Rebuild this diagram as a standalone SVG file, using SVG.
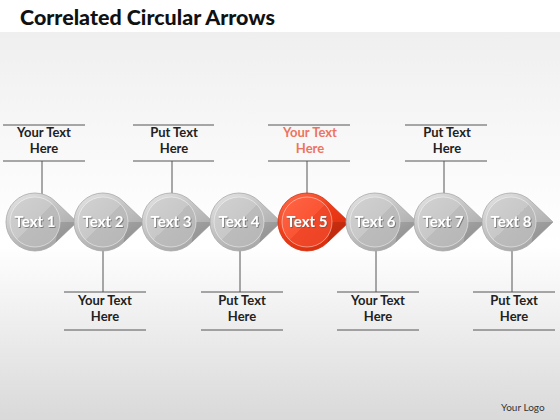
<svg xmlns="http://www.w3.org/2000/svg" width="560" height="420" viewBox="0 0 560 420">
<defs>
<linearGradient id="bg" x1="0" y1="0" x2="0" y2="1">
<stop offset="0" stop-color="#efefef"/>
<stop offset="0.35" stop-color="#fafafa"/>
<stop offset="0.55" stop-color="#ffffff"/>
<stop offset="1" stop-color="#d9d9d9"/>
</linearGradient>
<linearGradient id="gOut" x1="0" y1="0" x2="0.7" y2="1">
<stop offset="0" stop-color="#e8e8e8"/>
<stop offset="0.5" stop-color="#c2c2c2"/>
<stop offset="1" stop-color="#a4a4a4"/>
</linearGradient>
<linearGradient id="gIn" x1="0" y1="0" x2="1" y2="1">
<stop offset="0" stop-color="#d2d2d2"/>
<stop offset="0.5" stop-color="#c8c8c8"/>
<stop offset="0.5" stop-color="#bcbcbc"/>
<stop offset="1" stop-color="#b6b6b6"/>
</linearGradient>
<linearGradient id="rOut" x1="0" y1="0" x2="0.7" y2="1">
<stop offset="0" stop-color="#ff7252"/>
<stop offset="0.5" stop-color="#f03c18"/>
<stop offset="1" stop-color="#d42c0c"/>
</linearGradient>
<linearGradient id="rIn" x1="0" y1="0" x2="1" y2="1">
<stop offset="0" stop-color="#ff6546"/>
<stop offset="0.5" stop-color="#fa5534"/>
<stop offset="0.5" stop-color="#f04828"/>
<stop offset="1" stop-color="#ea4222"/>
</linearGradient>
<filter id="ts" x="-20%" y="-40%" width="140%" height="180%">
<feDropShadow dx="0.8" dy="0.8" stdDeviation="0.6" flood-color="#555" flood-opacity="0.8"/>
</filter>
<path id="drop" d="M20.5,-20.5 L42,0 L20.5,20.5 A29,29 0 1 1 20.5,-20.5 Z"/>
<path id="low" d="M24,0 L42,0 L20.5,20.5 L24,0 Z"/>
</defs>
<style>
.title{font-family:Lato,"Liberation Sans",sans-serif;font-weight:900;font-size:21px;fill:#111}
.co{font-family:Lato,"Liberation Sans",sans-serif;font-weight:bold;font-size:13px;fill:#222;text-anchor:middle}
.hi{fill:#ec7461}
.lbl{font-family:Lato,"Liberation Sans",sans-serif;font-weight:bold;font-size:15px;fill:#fff;text-anchor:middle;filter:url(#ts)}
.ln{stroke:#555;stroke-width:1;fill:none}
.logo{font-family:Lato,"Liberation Sans",sans-serif;font-size:10px;fill:#333}
.gl{fill:rgba(0,0,0,0.12)}
.rim{fill:none;stroke:rgba(255,255,255,0.45);stroke-width:1}
</style>
<rect width="560" height="420" fill="#ffffff"/>
<rect y="32" width="560" height="388" fill="url(#bg)"/>
<text class="title" x="20" y="25" textLength="255" lengthAdjust="spacingAndGlyphs">Correlated Circular Arrows</text>
<g id="connectors">
<path class="ln" d="M3,125H85M3,161H85M42,161V194"/>
<path class="ln" d="M133,125H214M133,161H214M172,161V194"/>
<path class="ln" d="M268,125H350M268,161H350M307,161V194"/>
<path class="ln" d="M405,125H487M405,161H487M444,161V194"/>
<path class="ln" d="M64,292H146M64,330H146M103,250V292"/>
<path class="ln" d="M201,292H283M201,330H283M240,250V292"/>
<path class="ln" d="M337,292H419M337,330H419M376,250V292"/>
<path class="ln" d="M473,292H555M473,330H555M512,250V292"/>
</g>
<g id="callouts">
<text class="co" x="44" y="137">Your Text</text><text class="co" x="44" y="153">Here</text>
<text class="co" x="174" y="137">Put Text</text><text class="co" x="174" y="153">Here</text>
<text class="co hi" x="310" y="137">Your Text</text><text class="co hi" x="310" y="153">Here</text>
<text class="co" x="447" y="137">Put Text</text><text class="co" x="447" y="153">Here</text>
<text class="co" x="105" y="305">Your Text</text><text class="co" x="105" y="321">Here</text>
<text class="co" x="242" y="305">Put Text</text><text class="co" x="242" y="321">Here</text>
<text class="co" x="378" y="305">Your Text</text><text class="co" x="378" y="321">Here</text>
<text class="co" x="514" y="305">Put Text</text><text class="co" x="514" y="321">Here</text>
</g>
<g id="node1" transform="translate(35,222)">
<use href="#drop" fill="url(#gOut)" stroke="#a8a8a8" stroke-width="0.8"/><use href="#low" class="gl"/>
<circle r="25" fill="url(#gIn)"/><circle r="25" class="rim"/>
<text class="lbl" y="5">Text 1</text>
</g>
<g id="node2" transform="translate(103,222)">
<use href="#drop" fill="url(#gOut)" stroke="#a8a8a8" stroke-width="0.8"/><use href="#low" class="gl"/>
<circle r="25" fill="url(#gIn)"/><circle r="25" class="rim"/>
<text class="lbl" y="5">Text 2</text>
</g>
<g id="node3" transform="translate(171,222)">
<use href="#drop" fill="url(#gOut)" stroke="#a8a8a8" stroke-width="0.8"/><use href="#low" class="gl"/>
<circle r="25" fill="url(#gIn)"/><circle r="25" class="rim"/>
<text class="lbl" y="5">Text 3</text>
</g>
<g id="node4" transform="translate(239,222)">
<use href="#drop" fill="url(#gOut)" stroke="#a8a8a8" stroke-width="0.8"/><use href="#low" class="gl"/>
<circle r="25" fill="url(#gIn)"/><circle r="25" class="rim"/>
<text class="lbl" y="5">Text 4</text>
</g>
<g id="node5" transform="translate(307,222)">
<use href="#drop" fill="url(#rOut)" stroke="#d03010" stroke-width="0.8"/><use href="#low" class="gl"/>
<circle r="25" fill="url(#rIn)"/><circle r="25" class="rim"/>
<text class="lbl" y="5">Text 5</text>
</g>
<g id="node6" transform="translate(375,222)">
<use href="#drop" fill="url(#gOut)" stroke="#a8a8a8" stroke-width="0.8"/><use href="#low" class="gl"/>
<circle r="25" fill="url(#gIn)"/><circle r="25" class="rim"/>
<text class="lbl" y="5">Text 6</text>
</g>
<g id="node7" transform="translate(443,222)">
<use href="#drop" fill="url(#gOut)" stroke="#a8a8a8" stroke-width="0.8"/><use href="#low" class="gl"/>
<circle r="25" fill="url(#gIn)"/><circle r="25" class="rim"/>
<text class="lbl" y="5">Text 7</text>
</g>
<g id="node8" transform="translate(511,222)">
<use href="#drop" fill="url(#gOut)" stroke="#a8a8a8" stroke-width="0.8"/><use href="#low" class="gl"/>
<circle r="25" fill="url(#gIn)"/><circle r="25" class="rim"/>
<text class="lbl" y="5">Text 8</text>
</g>
<text class="logo" x="501" y="411">Your Logo</text>
</svg>
